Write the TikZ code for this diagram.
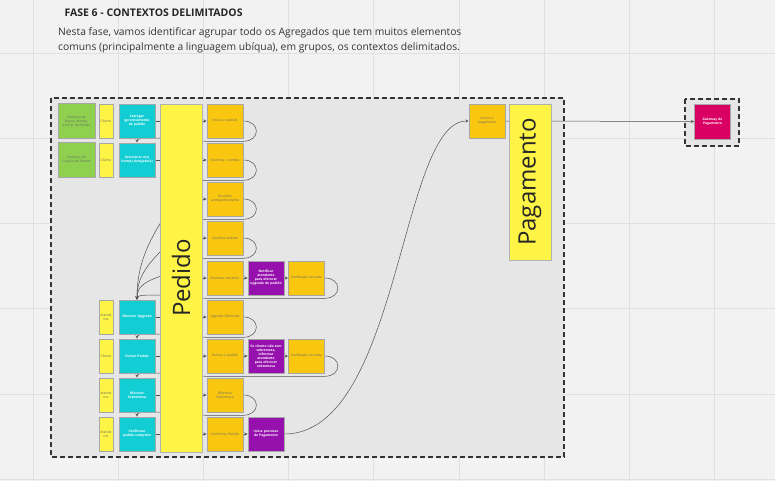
\documentclass[tikz,border=0pt]{standalone}
\usepackage{fontspec}
\setmainfont{Open Sans}
\usepackage{graphicx}
\usetikzlibrary{positioning}
\definecolor{fundoc}{HTML}{F2F2F2}
\definecolor{gradec}{HTML}{E0E0E0}
\definecolor{ctxc}{HTML}{E6E6E6}
\definecolor{verde}{HTML}{8FD14F}
\definecolor{amarelo}{HTML}{FEF445}
\definecolor{ciano}{HTML}{12CDD4}
\definecolor{laranja}{HTML}{FAC710}
\definecolor{roxo}{HTML}{9510AC}
\definecolor{rosa}{HTML}{DA0063}
\definecolor{linha}{HTML}{505050}
\pgfdeclarelayer{fundo}\pgfdeclarelayer{setas}
\pgfsetlayers{fundo,setas,main}
\newcommand{\miudo}{\fontsize{3.3}{4}\selectfont\hyphenpenalty=10000\relax}
\tikzset{
	card/.style={draw=black!35,line width=.6pt,minimum width=36,minimum height=34,inner sep=0pt,align=center,text width=32,font=\miudo,text=black!60},
	evento/.style={card,fill=laranja},
	comando/.style={card,fill=ciano,text=white,font=\miudo\bfseries},
	politica/.style={card,fill=roxo,text=white,font=\miudo\bfseries},
	ator/.style={card,fill=amarelo,minimum width=14,text width=13},
	tela/.style={card,fill=verde,minimum width=37,minimum height=35},
	externo/.style={card,fill=rosa,text=white,font=\miudo\bfseries,minimum height=35},
	agregado/.style={draw=black!30,line width=.6pt,fill=amarelo,minimum width=42,inner sep=0pt,font=\fontsize{24}{24}\selectfont,text=black!85},
	contexto/.style={draw=black!80,fill=ctxc,line width=1.3pt,dash pattern=on 5pt off 3pt},
	fluxo/.style={draw=linha,line width=.5pt}
}
\begin{document}
\begin{tikzpicture}[x=1pt,y=-1pt,>=stealth,line join=round]
\useasboundingbox (0,0) rectangle (775,481);
% cabecalho
\node[anchor=west,font=\fontsize{10.5}{12}\selectfont\bfseries,text=black!85] (titulo) at (61,12.5) {FASE 6 - CONTEXTOS DELIMITADOS};
\node[anchor=north west,align=left,font=\fontsize{10.3}{15}\selectfont,text=black!80,inner sep=0pt] (texto) at (58,27) {Nesta fase, vamos identificar agrupar todo os Agregados que tem muitos elementos\\comuns (principalmente a linguagem ubíqua), em grupos, os contextos delimitados.};
% interfaces e atores
\node[tela] (t1) at (76.5,121) {Interface de Busca, Vendas, e Início de Pedido};
\node[tela] (t2) at (76.5,160) {Interface de Criação de Pedido};
\foreach \n/\y/\t in {a1/121/Cliente,a2/160/Cliente,a6/317/Atende\\nte,a7/356/Cliente,a8/395/Atende\\nte,a9/434/Atende\\nte}
	\node[ator] (\n) at (106,\y) {\t};
% comandos
\foreach \n/\y/\t in {c1/121/Carregar gerenciamento de pedido,c2/160/Selecionar o(s) item(s) desejado(s),c6/317/Oferecer Upgrade,c7/356/Fechar Pedido,c8/395/Oferecer Sobremesa,c9/434/Confirmar pedido completo}
	\node[comando] (\n) at (137,\y) {\t};
% agregado Pedido
\node[agregado,minimum height=348] (ped) at (181,278) {\rotatebox{90}{Pedido}};
% eventos
\foreach \n/\y/\t in {e1/121/Iniciou o pedido,e2/160/Escolheu o combo,e3/199/Escolheu acompanhamento,e4/238/Escolheu bebida,e5/278/Escolheu tamanho,e6/317/Upgrade Oferecido,e7/356/Fechou o pedido,e8/395/Ofereceu Sobremesa,e9/434/Confirmou Pedido}
	\node[evento] (\n) at (225,\y) {\t};
% politicas
\node[politica] (p5) at (266,278) {Notificar atendente para oferecer upgrade do pedido};
\node[evento] (n5) at (306.5,278) {Notificação enviada};
\node[politica] (p7) at (266,356) {Se cliente não tem sobremesa, informar atendente para oferecer sobremesa};
\node[evento] (n7) at (306.5,356) {Notificação enviada};
\node[politica] (p9) at (266,434) {Inicia processo de Pagamento};
% contexto Pagamento
\node[evento] (pg) at (487,121) {Iniciou o pagamento};
\node[agregado,minimum height=156] (pag) at (530,182) {\rotatebox{90}{Pagamento}};
\node[externo] (gw) at (712.5,121.5) {Gateway de Pagamento};

\begin{pgfonlayer}{fundo}
	\fill[fundoc] (0,0) rectangle (775,481);
	\foreach \k in {0,...,8} \draw[gradec,line width=1pt] ({33.3+85.14*\k},0) -- ({33.3+85.14*\k},481);
	\foreach \k in {0,...,5} \draw[gradec,line width=1pt] (0,{53.3+85.2*\k}) -- (775,{53.3+85.2*\k});
	\draw[contexto] (51,98) rectangle (564,457);
	\draw[contexto] (685,99) rectangle (739,146);
\end{pgfonlayer}

\begin{pgfonlayer}{setas}
	% comandos -> agregado
	\foreach \n in {c1,c2,c6,c7,c8,c9} \draw[fluxo] (\n.east) -- (\n.east -| ped.west);
	% agregado -> eventos
	\foreach \n in {e1,e2,e3,e4,e5,e6,e7,e8,e9} \draw[fluxo,->] (\n.west -| ped.east) -- (\n.west);
	\draw[fluxo,->] (e5) -- (p5);
	\draw[fluxo,->] (p5) -- (n5);
	\draw[fluxo,->] (e7) -- (p7);
	\draw[fluxo,->] (p7) -- (n7);
	\draw[fluxo,->] (e9) -- (p9);
	% eventos -> proximo comando
	\draw[fluxo,->] (e1.east) to[out=0,in=0,looseness=2.2] ([yshift=-3pt]e1.south east) -- ([yshift=-3pt]e1.south west) to[out=180,in=90,looseness=.3] (c2.north);
	\foreach \n in {e2,e3,e4}
		\draw[fluxo,->] (\n.east) to[out=0,in=0,looseness=2.2] ([yshift=-3pt]\n.south east) -- ([yshift=-3pt,xshift=-20pt]\n.south west) to[out=240,in=90] (c6.north);
	\draw[fluxo,->] (n5.east) to[out=0,in=0,looseness=2.2] ([yshift=-3pt]n5.south east) -- ([yshift=-3pt]e5.south west) to[out=180,in=90,looseness=.3] (c6.north);
	\draw[fluxo,->] (e6.east) to[out=0,in=0,looseness=2.2] ([yshift=-3pt]e6.south east) -- ([yshift=-3pt]e6.south west) to[out=180,in=90,looseness=.3] (c7.north);
	\draw[fluxo,->] (n7.east) to[out=0,in=0,looseness=2.2] ([yshift=-3pt]n7.south east) -- ([yshift=-3pt]e7.south west) to[out=180,in=90,looseness=.3] (c8.north);
	\draw[fluxo,->] (e8.east) to[out=0,in=0,looseness=2.2] ([yshift=-3pt]e8.south east) -- ([yshift=-3pt]e8.south west) to[out=180,in=90,looseness=.3] (c9.north);
	% pagamento
	\draw[fluxo,->] (p9.east) .. controls (400,434) and (400,121) .. (pg.west);
	\draw[fluxo,->] (pg.east) -- (gw.west);
\end{pgfonlayer}
\end{tikzpicture}
\end{document}
